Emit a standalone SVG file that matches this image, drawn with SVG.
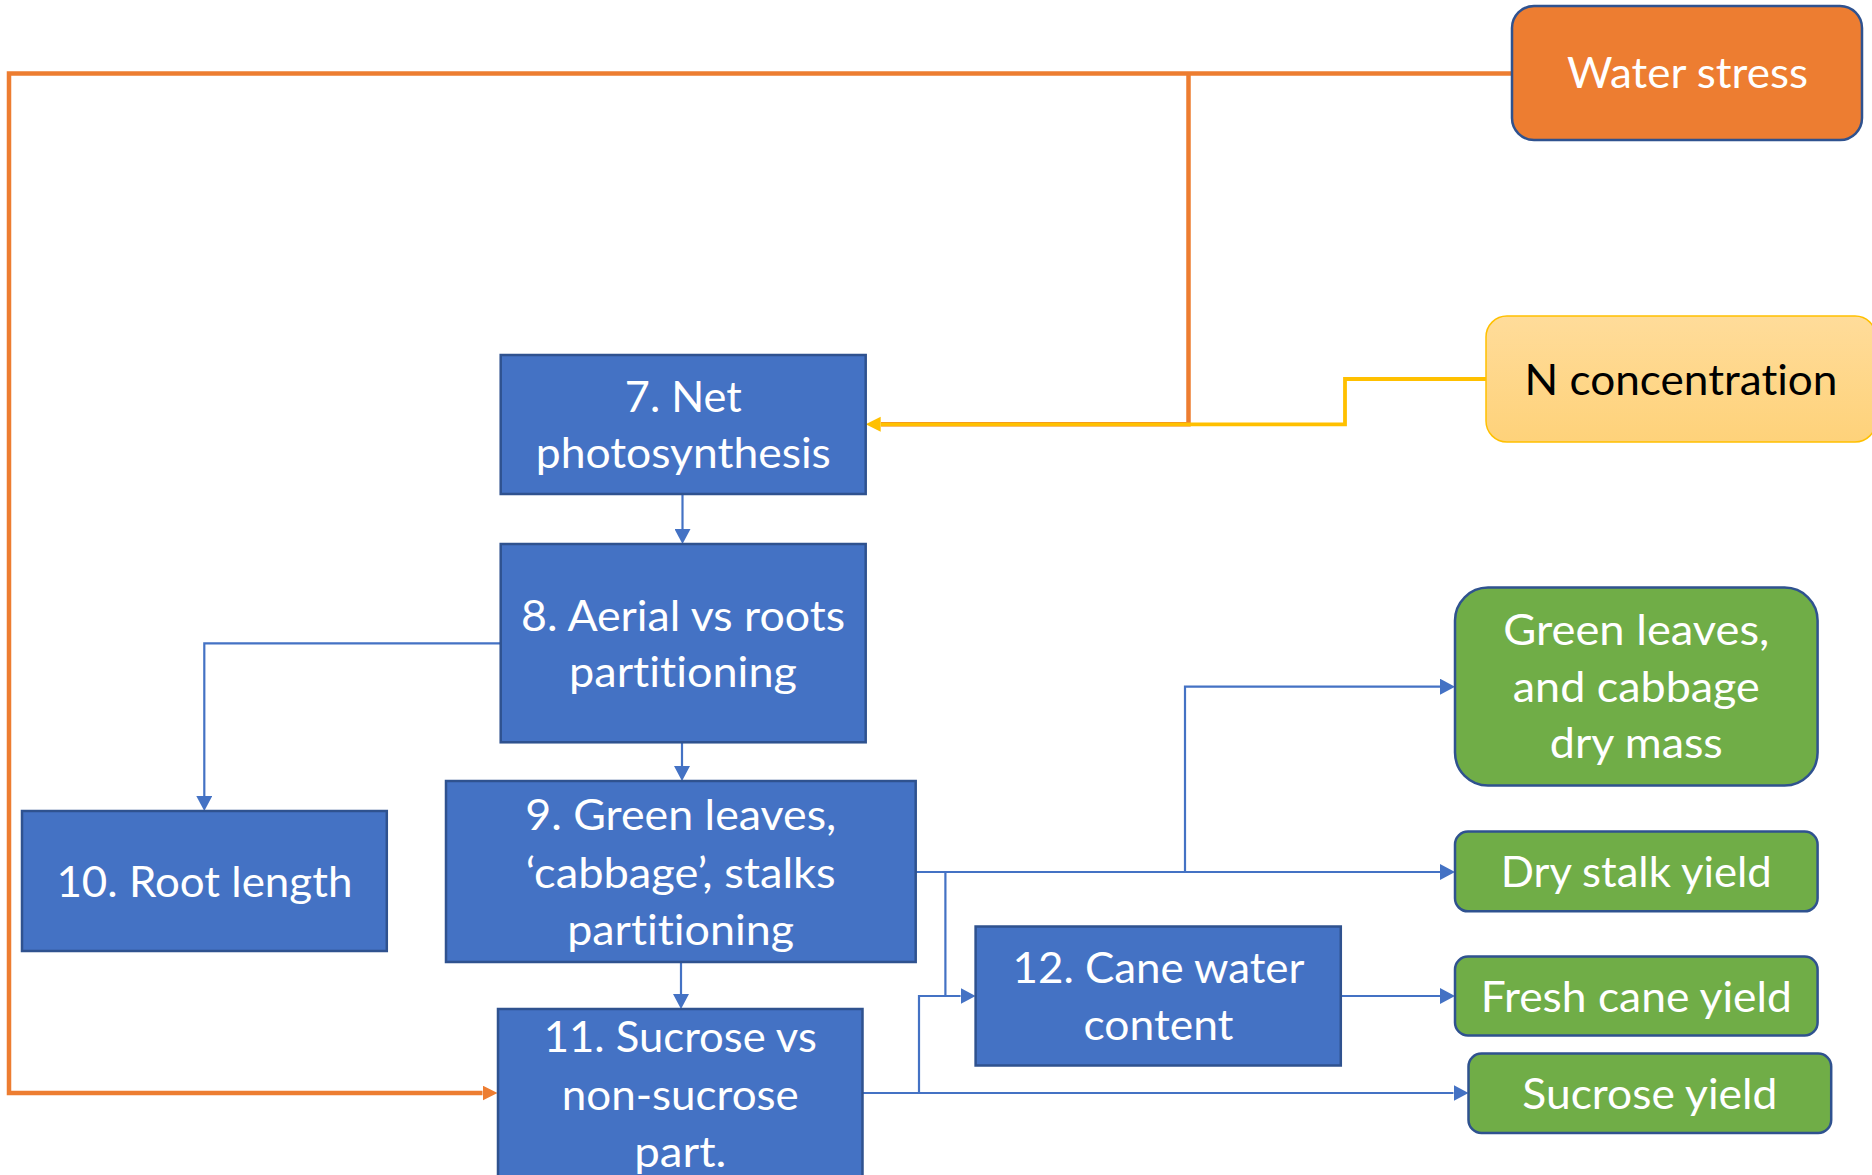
<svg xmlns="http://www.w3.org/2000/svg" width="1872" height="1175" viewBox="0 0 1872 1175">
  <defs>
    <style>
      .proc { fill: #4472C4; stroke: #2F528F; stroke-width: 2.5; }
      .yield { fill: #70AD47; stroke: #2F528F; stroke-width: 2.5; }
      .stress { fill: #ED7D31; stroke: #2F528F; stroke-width: 2.5; }
      .nitro { fill: url(#goldFill); stroke: #FFC000; stroke-width: 1.5; }
      .lbl { font-family: Lato, "Open Sans", "Liberation Sans", sans-serif; font-size: 42px; fill: #FFFFFF; text-anchor: middle; font-variant-ligatures: none; font-feature-settings: "liga" 0, "clig" 0, "dlig" 0; }
      .dark { fill: #000000; }
      .blue { fill: none; stroke: #4472C4; stroke-width: 2.2; }
      .orange { fill: none; stroke: #ED7D31; stroke-width: 4.5; }
      .yellow { fill: none; stroke: #FFC000; stroke-width: 3.8; }
    </style>
    <linearGradient id="goldFill" x1="0" y1="0" x2="0" y2="1">
      <stop offset="0" stop-color="#FFDC9A"/>
      <stop offset="1" stop-color="#FED27A"/>
    </linearGradient>
    <marker id="arrBlue" markerUnits="userSpaceOnUse" markerWidth="16" markerHeight="16" refX="0" refY="8" orient="auto">
      <path d="M0,0 L15,8 L0,16 Z" fill="#4472C4"/>
    </marker>
    <marker id="arrOrange" markerUnits="userSpaceOnUse" markerWidth="16" markerHeight="16" refX="0" refY="7.5" orient="auto">
      <path d="M0,0 L15,7.5 L0,15 Z" fill="#ED7D31"/>
    </marker>
    <marker id="arrYellow" markerUnits="userSpaceOnUse" markerWidth="16" markerHeight="16" refX="0" refY="7.5" orient="auto">
      <path d="M0,0 L15,7.5 L0,15 Z" fill="#FFC000"/>
    </marker>
  </defs>

  <rect width="1872" height="1175" fill="#FFFFFF"/>

  <!-- connectors -->
  <g id="connectors">
    <!-- water stress feedback loops -->
    <path class="orange" d="M1512,73.5 H9 V1093 H482.5" marker-end="url(#arrOrange)"/>
    <path class="orange" d="M1188.5,73.5 V424.3 H881"/>
    <!-- nitrogen input -->
    <path class="yellow" d="M1486,379 H1345 V424.3 H880.7" marker-end="url(#arrYellow)"/>
    <!-- process chain -->
    <path class="blue" d="M682.5,494 V529" marker-end="url(#arrBlue)"/>
    <path class="blue" d="M500.7,643.3 H204.3 V796" marker-end="url(#arrBlue)"/>
    <path class="blue" d="M682,742.3 V766" marker-end="url(#arrBlue)"/>
    <path class="blue" d="M681,962 V994" marker-end="url(#arrBlue)"/>
    <path class="blue" d="M915.7,872 H1440" marker-end="url(#arrBlue)"/>
    <path class="blue" d="M1185,872 V686.7 H1440" marker-end="url(#arrBlue)"/>
    <path class="blue" d="M945.4,872 V996 H960.6" marker-end="url(#arrBlue)"/>
    <path class="blue" d="M862.5,1093 H1453.5" marker-end="url(#arrBlue)"/>
    <path class="blue" d="M919,1093 V996 H945.4"/>
    <path class="blue" d="M1340.8,996 H1440" marker-end="url(#arrBlue)"/>
  </g>

  <!-- drivers -->
  <g id="water-stress">
    <rect class="stress" x="1512" y="6" width="350" height="134" rx="22"/>
    <text class="lbl" x="1687.5" y="88.3" textLength="241" lengthAdjust="spacingAndGlyphs">Water stress</text>
  </g>
  <g id="n-concentration">
    <rect class="nitro" x="1486" y="316" width="390" height="126" rx="21"/>
    <text class="lbl dark" x="1681" y="395" textLength="313" lengthAdjust="spacingAndGlyphs">N concentration</text>
  </g>

  <!-- processes -->
  <g id="net-photosynthesis">
    <rect class="proc" x="500.7" y="355" width="365" height="139"/>
    <text class="lbl" x="683.3" y="411.7" textLength="117" lengthAdjust="spacingAndGlyphs">7. Net</text>
    <text class="lbl" x="683.3" y="468.3" textLength="295" lengthAdjust="spacingAndGlyphs">photosynthesis</text>
  </g>
  <g id="aerial-roots">
    <rect class="proc" x="500.7" y="544" width="365" height="198.3"/>
    <text class="lbl" x="683" y="630.7" textLength="324" lengthAdjust="spacingAndGlyphs">8. Aerial vs roots</text>
    <text class="lbl" x="683" y="686.7" textLength="228" lengthAdjust="spacingAndGlyphs">partitioning</text>
  </g>
  <g id="leaves-stalks">
    <rect class="proc" x="446" y="781" width="469.7" height="181"/>
    <text class="lbl" x="680.7" y="830" textLength="311" lengthAdjust="spacingAndGlyphs">9. Green leaves,</text>
    <text class="lbl" x="680.7" y="887.7" textLength="310" lengthAdjust="spacingAndGlyphs">‘cabbage’, stalks</text>
    <text class="lbl" x="680.7" y="945" textLength="227" lengthAdjust="spacingAndGlyphs">partitioning</text>
  </g>
  <g id="root-length">
    <rect class="proc" x="22" y="811" width="364.8" height="140"/>
    <text class="lbl" x="204.4" y="896.7" textLength="296" lengthAdjust="spacingAndGlyphs">10. Root length</text>
  </g>
  <g id="sucrose-part">
    <rect class="proc" x="498" y="1009" width="364.5" height="176"/>
    <text class="lbl" x="680.3" y="1052" textLength="273" lengthAdjust="spacingAndGlyphs">11. Sucrose vs</text>
    <text class="lbl" x="680.3" y="1110" textLength="237" lengthAdjust="spacingAndGlyphs">non-sucrose</text>
    <text class="lbl" x="680.3" y="1166.7" textLength="92" lengthAdjust="spacingAndGlyphs">part.</text>
  </g>
  <g id="cane-water">
    <rect class="proc" x="975.6" y="926.5" width="365.2" height="139"/>
    <text class="lbl" x="1158.5" y="983" textLength="292" lengthAdjust="spacingAndGlyphs">12. Cane water</text>
    <text class="lbl" x="1158.5" y="1040.3" textLength="150" lengthAdjust="spacingAndGlyphs">content</text>
  </g>

  <!-- outputs -->
  <g id="leaves-mass">
    <rect class="yield" x="1455" y="587.6" width="362.6" height="198" rx="33"/>
    <text class="lbl" x="1636.3" y="644.5" textLength="266" lengthAdjust="spacingAndGlyphs">Green leaves,</text>
    <text class="lbl" x="1636.3" y="702.2" textLength="247" lengthAdjust="spacingAndGlyphs">and cabbage</text>
    <text class="lbl" x="1636.3" y="758.4" textLength="173" lengthAdjust="spacingAndGlyphs">dry mass</text>
  </g>
  <g id="dry-stalk">
    <rect class="yield" x="1455" y="831.6" width="362.6" height="79.7" rx="13"/>
    <text class="lbl" x="1636.3" y="886.6" textLength="271" lengthAdjust="spacingAndGlyphs">Dry stalk yield</text>
  </g>
  <g id="fresh-cane">
    <rect class="yield" x="1455" y="956.5" width="362.6" height="79" rx="13"/>
    <text class="lbl" x="1636.3" y="1011.5" textLength="311" lengthAdjust="spacingAndGlyphs">Fresh cane yield</text>
  </g>
  <g id="sucrose-yield">
    <rect class="yield" x="1468.5" y="1053.6" width="362.7" height="79.4" rx="13"/>
    <text class="lbl" x="1649.8" y="1108.7" textLength="255" lengthAdjust="spacingAndGlyphs">Sucrose yield</text>
  </g>
</svg>
